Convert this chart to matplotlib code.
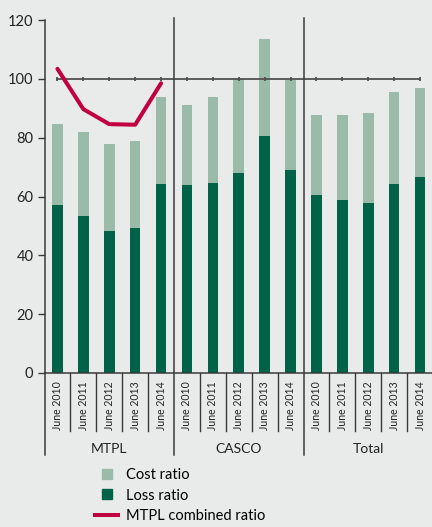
import matplotlib
matplotlib.use("Agg")
import matplotlib.pyplot as plt
from matplotlib.lines import Line2D
import matplotlib.transforms as mtransforms

plt.rcParams['font.family'] = ['Lato', 'DejaVu Sans']

groups = ["MTPL", "CASCO", "Total"]
periods = ["June 2010", "June 2011", "June 2012", "June 2013", "June 2014"]
loss_ratio = [57.1, 53.4, 48.3, 49.3, 64.3,
              63.9, 64.6, 68.0, 80.6, 69.0,
              60.5, 58.8, 57.8, 64.3, 66.7]
total_ratio = [84.7, 82.0, 77.9, 78.9, 93.9,
               91.2, 93.9, 100.0, 113.6, 99.7,
               87.8, 87.8, 88.4, 95.6, 96.9]
mtpl_combined = [103.4, 89.7, 84.6, 84.4, 98.5]
reference_level = 100

cost_ratio = [t - l for t, l in zip(total_ratio, loss_ratio)]

BG = '#e9ebea'
LIGHT = '#9abbaa'
DARK = '#006246'
RED = '#c1003f'
AX = '#3a3a3a'

fig = plt.figure(figsize=(4.32, 5.27), dpi=100, facecolor=BG)
ax = fig.add_axes([44.5 / 432, (527 - 373) / 527, (433 - 44.5) / 432, 353 / 527])
ax.set_facecolor(BG)

x = list(range(len(loss_ratio)))
ax.bar(x, loss_ratio, width=0.41, color=DARK, zorder=2)
ax.bar(x, cost_ratio, width=0.41, bottom=loss_ratio, color=LIGHT, zorder=2)

ax.plot(x, [reference_level] * len(x), color='#505050', lw=1.3, marker='|',
        markersize=2.5, markeredgewidth=1.3, zorder=3)
ax.plot(x[:5], mtpl_combined, color=RED, lw=2.9, solid_capstyle='round',
        solid_joinstyle='round', zorder=4)

ax.set_xlim(-0.5, 14.5)
ax.set_ylim(0, 120)
ax.set_yticks(range(0, 121, 20))
ax.tick_params(axis='y', direction='out', length=5, width=1, color=AX,
               labelsize=10.5, labelcolor='#222222', pad=3)
ax.set_xticks(x)
ax.set_xticklabels(periods * 3, rotation=90, fontsize=7.6, color='#222222', va='top')
ax.tick_params(axis='x', length=0, pad=6)

for s in ['top', 'right']:
    ax.spines[s].set_visible(False)
ax.spines['left'].set_color(AX)
ax.spines['bottom'].set_color(AX)
ax.spines['left'].set_linewidth(1.1)
ax.spines['bottom'].set_linewidth(1.1)

trans = mtransforms.blended_transform_factory(ax.transData, ax.transAxes)
# group separators
for gx in [-0.5, 4.5, 9.5]:
    top = 0 if gx == -0.5 else 1.006
    ax.add_line(Line2D([gx, gx], [-0.232, top], transform=trans, color=AX,
                       lw=1.1, clip_on=False, zorder=5))
# small ticks between bars
for bx in [i + 0.5 for i in range(14) if i not in (4, 9)]:
    ax.add_line(Line2D([bx, bx], [-0.164, 0], transform=trans, color=AX,
                       lw=1.0, clip_on=False))
for i, g in enumerate(groups):
    ax.text(i * 5 + 2, -0.214, g, transform=trans, ha='center', va='center',
            fontsize=10, color='#222222')

handles = [
    Line2D([], [], marker='s', linestyle='none', markersize=7.4,
           markerfacecolor=LIGHT, markeredgecolor=LIGHT, label='Cost ratio'),
    Line2D([], [], marker='s', linestyle='none', markersize=7.4,
           markerfacecolor=DARK, markeredgecolor=DARK, label='Loss ratio'),
    Line2D([], [], color=RED, lw=2.9, label='MTPL combined ratio'),
]
fig.legend(handles=handles, loc='upper left', bbox_to_anchor=(95 / 432, 1 - 468 / 527),
           frameon=False, fontsize=10.5, handlelength=1.6, handletextpad=0.55,
           labelspacing=0.45, borderaxespad=0, borderpad=0)

fig.savefig('out.png', dpi=100, facecolor=BG)
